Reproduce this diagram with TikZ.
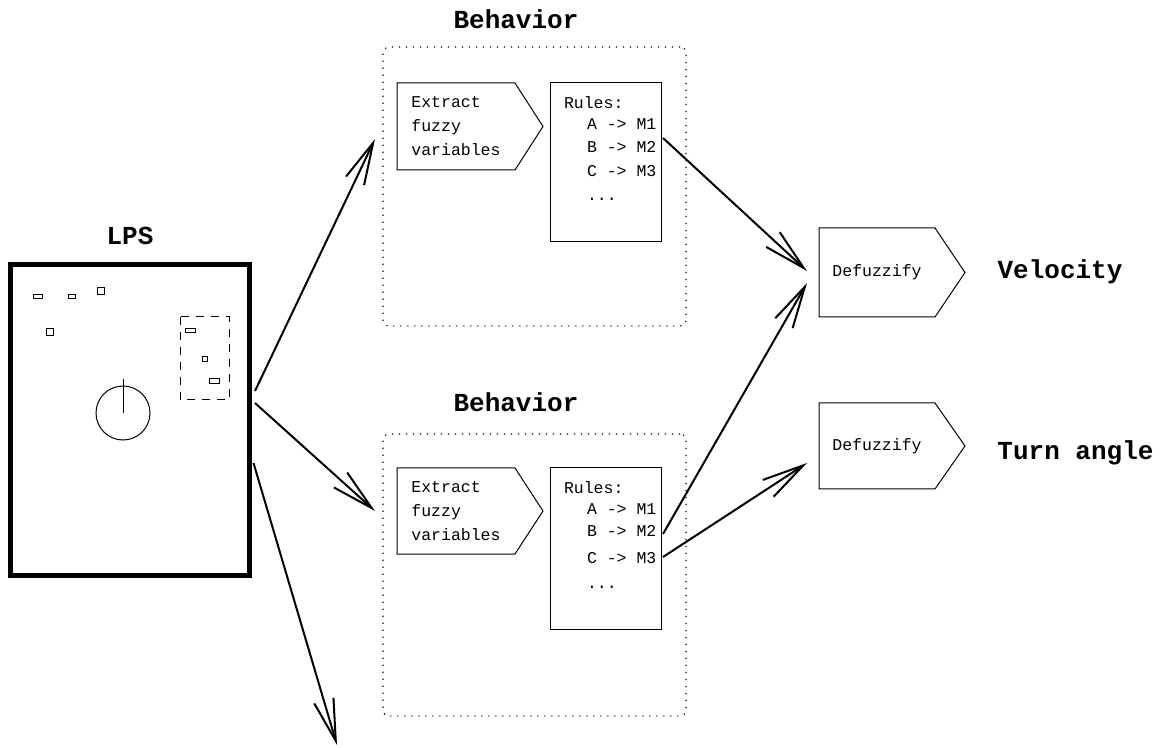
\documentclass[tikz,border=0pt]{standalone}
\usepackage{fontspec}
\setmonofont{Liberation Mono}
\usetikzlibrary{arrows.meta,calc}
\begin{document}
\begin{tikzpicture}[x=0.5pt,y=-0.5pt,
  every node/.style={inner sep=0pt, outer sep=0pt},
  small/.style={font=\ttfamily\fontsize{8.25}{12}\selectfont},
  rulestext/.style={font=\ttfamily\fontsize{8.25}{10.75}\selectfont, align=left, anchor=north west},
  big/.style={font=\ttfamily\bfseries\fontsize{13}{15}\selectfont},
  conn/.style={line width=1pt, -{Straight Barb[length=21pt,width=10pt,line width=1pt]}},
  behbox/.style={draw, line width=0.6pt, dash pattern=on 0.6pt off 2.9pt, rounded corners=3pt, minimum width=151.5pt},
  flatbox/.style={small, align=left},
  rulebox/.style={draw, line width=0.5pt, minimum width=55.5pt},
  thinline/.style={line width=0.5pt},
]
\useasboundingbox (0,0) rectangle (1162,748);

% LPS
\node[big] (lpslbl) at (130,236) {LPS};
\node[draw, line width=2.5pt, minimum width=119.5pt, minimum height=155.25pt] (lps) at (130,419.75) {};
\draw[thinline] (33,295) rectangle (42,299);
\draw[thinline] (68,295) rectangle (75,299);
\draw[thinline] (97,288) rectangle (104,295);
\draw[thinline] (46,329) rectangle (53,336);
\draw[thinline, dash pattern=on 4pt off 3.5pt] (180,317) rectangle (229,400);
\draw[thinline] (185,329) rectangle (195,333);
\draw[thinline] (202,357) rectangle (207,362);
\draw[thinline] (209,379) rectangle (219,384);
\draw[thinline] (123,413) circle[radius=13.5pt];
\draw[thinline] (123,413) -- (123,379);

% Behaviors
\node[big] (beh1lbl) at (516,19) {Behavior};
\node[behbox, minimum height=139.5pt] (beh1) at (534.5,186.5) {};
\node[big] (beh2lbl) at (516,402) {Behavior};
\node[behbox, minimum height=141pt] (beh2) at (534.5,575) {};

% Extract boxes
\node[flatbox, minimum width=59pt, minimum height=43.5pt] (ext1) at (456,126.5) {Extract\\fuzzy\\variables};
\draw[thinline] (ext1.north west) -- (ext1.north east) -- ($(ext1.east)+(28,0)$) -- (ext1.south east) -- (ext1.south west) -- cycle;
\node[flatbox, minimum width=59pt, minimum height=43pt] (ext2) at (456,511) {Extract\\fuzzy\\variables};
\draw[thinline] (ext2.north west) -- (ext2.north east) -- ($(ext2.east)+(28,0)$) -- (ext2.south east) -- (ext2.south west) -- cycle;

% Rules boxes
\node[rulebox, minimum height=79.5pt] (r1) at (605.5,162.5) {};
\node[rulestext] (r1t) at ($(r1.north west)+(14,13.5)$) {Rules:\\\hspace*{11.5pt}A -> M1\\[0.5pt]\hspace*{11.5pt}B -> M2\\[1.5pt]\hspace*{11.5pt}C -> M3\\[1pt]\hspace*{11.5pt}...};
\node[rulebox, minimum height=80.5pt] (r2) at (605.5,548.5) {};
\node[rulestext] (r2t) at ($(r2.north west)+(14,13.5)$) {Rules:\\\hspace*{11.5pt}A -> M1\\\hspace*{11.5pt}B -> M2\\[2.8pt]\hspace*{11.5pt}C -> M3\\[1.8pt]\hspace*{11.5pt}...};

% Defuzzify
\node[small, minimum width=58pt, minimum height=44.5pt] (d1) at (877,272.5) {Defuzzify};
\draw[thinline] (d1.north west) -- (d1.north east) -- ($(d1.east)+(30,0)$) -- (d1.south east) -- (d1.south west) -- cycle;
\node[small, minimum width=58pt, minimum height=43pt] (d2) at (877,446) {Defuzzify};
\draw[thinline] (d2.north west) -- (d2.north east) -- ($(d2.east)+(30,0)$) -- (d2.south east) -- (d2.south west) -- cycle;

\node[big] (vel) at (1060,272) {Velocity};
\node[big] (turn) at (1075.5,453) {Turn angle};

% free ends
\coordinate (in1) at (375,139);
\coordinate (in2) at (375,511);
\coordinate (out3) at (337,745);

% connectors
\draw[conn] ($(lps.east)+(5.5,-28.75)$) -- (in1);
\draw[conn] ($(lps.east)+(5.5,-16.75)$) -- (in2);
\draw[conn] ($(lps.east)+(4,43.25)$) -- (out3);
\draw[conn] ($(r1.east)+(2,-24.5)$) -- ($(d1.west)+(-12,-1.5)$);
\draw[conn] ($(r2.east)+(2,-14.5)$) -- ($(d1.west)+(-12,10.5)$);
\draw[conn] ($(r2.east)+(2,8.5)$) -- ($(d2.west)+(-12,17)$);
\end{tikzpicture}
\end{document}
